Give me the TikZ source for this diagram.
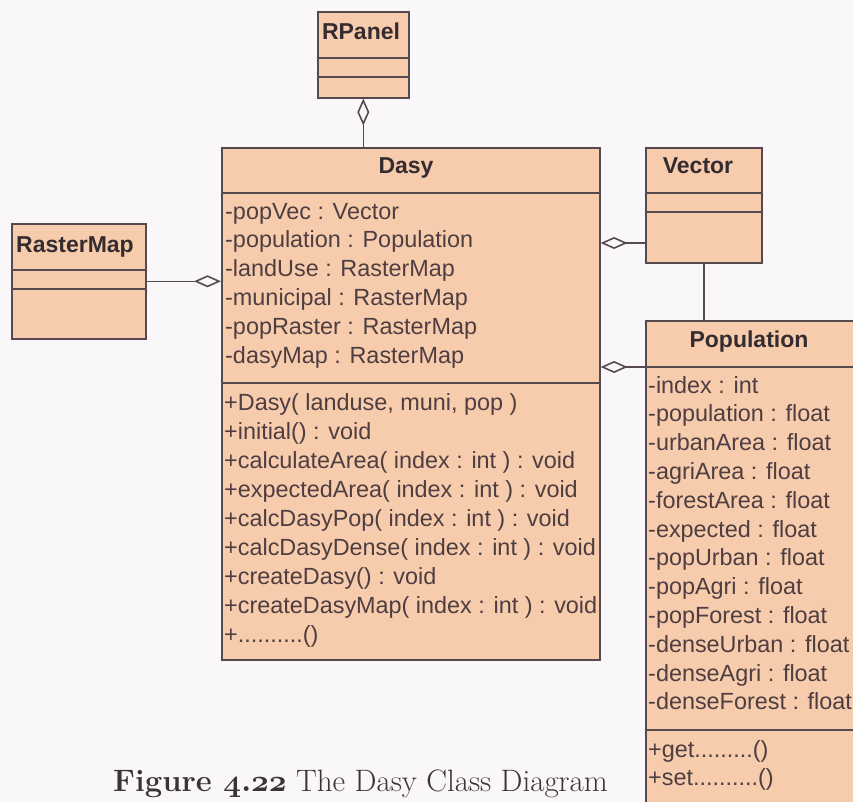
\documentclass[tikz,border=0pt]{standalone}
\usepackage{fix-cm}
\usepackage{fontspec}
\newfontfamily\umlfont{Liberation Sans}
\usetikzlibrary{arrows.meta}

\definecolor{pagebg}{RGB}{249,247,249}
\definecolor{classfill}{RGB}{247,204,172}
\definecolor{classline}{RGB}{86,74,80}
\definecolor{classtext}{RGB}{78,62,66}
\definecolor{classtitle}{RGB}{52,44,48}
\definecolor{captiontext}{RGB}{58,52,56}

\begin{document}
\begin{tikzpicture}[x=1pt,y=-1pt,
  cls/.style={draw=classline, fill=classfill, line width=1.6pt, rectangle,
    inner sep=0pt, anchor=north west},
  divider/.style={draw=classline, line width=1.6pt},
  classname/.style={font=\umlfont\bfseries\fontsize{23}{28}\selectfont,
    text=classtitle, anchor=base, inner sep=0pt},
  member/.style={font=\umlfont\fontsize{23.4}{28}\selectfont,
    text=classtext, anchor=base west, inner sep=0pt},
  link/.style={draw=classline, line width=1.6pt},
  agg/.style={link, -{Diamond[open, length=27pt, width=12pt, line width=1.6pt]}},
]
\path[use as bounding box, fill=pagebg] (0,0) rectangle (853,802);
\clip (0,0) rectangle (853,802);

% ---- class boxes ----
\node[cls, minimum width=91pt,  minimum height=86pt]  (rpanel) at (317,11)  {};
\node[cls, minimum width=378pt, minimum height=512pt] (dasy)   at (221,147) {};
\node[cls, minimum width=134pt, minimum height=115pt] (raster) at (11,223)  {};
\node[cls, minimum width=116pt, minimum height=115pt] (vector) at (645,147) {};
\node[cls, minimum width=215pt, minimum height=500pt] (popul)  at (645,320) {};

% ---- compartment dividers ----
\foreach \b/\y in {rpanel/58, rpanel/77, dasy/193, dasy/383, raster/270,
                   raster/289, vector/193, vector/212, popul/367, popul/730}
  \draw[divider] (\b.west |- 0,\y) -- (\b.east |- 0,\y);

% ---- class names ----
\node[classname] (rpanelname) at (361,40)  {RPanel};
\node[classname] (dasyname)   at (406,174) {Dasy};
\node[classname] (rastername) at (75,252)  {RasterMap};
\node[classname] (vectorname) at (698,174) {Vector};
\node[classname] (populname)  at (749,347) {Population};

% ---- Dasy members ----
\foreach \t [count=\i from 0] in {{-popVec : Vector}, {-population : Population},
    {-landUse : RasterMap}, {-municipal : RasterMap}, {-popRaster : RasterMap},
    {-dasyMap : RasterMap}}
  \node[member] (dasyattr\i) at (225,219+28.8*\i) {\t};
\foreach \t [count=\i from 0] in {{+Dasy( landuse, muni, pop )}, {+initial() : void},
    {+calculateArea( index : int ) : void}, {+expectedArea( index : int ) : void},
    {+calcDasyPop( index : int ) : void}, {+calcDasyDense( index : int ) : void},
    {+createDasy() : void}, {+createDasyMap( index : int ) : void}}
  \node[member] (dasyop\i) at (224,410+29*\i) {\t};
\node[member] (dasyop8) at (224,642) {+..........()};

% ---- Population members ----
\foreach \t [count=\i from 0] in {{-index : int}, {-population : float},
    {-urbanArea : float}, {-agriArea : float}, {-forestArea : float},
    {-expected : float}, {-popUrban : float}, {-popAgri : float},
    {-popForest : float}, {-denseUrban : float}, {-denseAgri : float},
    {-denseForest : float}}
  \node[member] (popattr\i) at (648,393+28.8*\i) {\t};
\node[member] (popop0) at (648,757) {+get.........()};
\node[member] (popop1) at (648,785) {+set..........()};

% ---- associations ----
\draw[agg]  (rpanel.south |- dasy.north) -- (rpanel.south);
\draw[agg]  (raster.east) -- (raster.east -| dasy.west);
\draw[agg]  (vector.west |- 0,243) -- (dasy.east |- 0,243);
\draw[agg]  (popul.west |- 0,367) -- (dasy.east |- 0,367);
\draw[link] (vector.south) -- (vector.south |- popul.north);

% ---- caption ----
\node[anchor=base west, inner sep=0pt, text=captiontext,
      font=\fontsize{31}{36}\selectfont] (caption) at (113,791)
  {\textbf{Figure {\boldmath$\mathnormal{4.22}$}} The Dasy Class Diagram};
\end{tikzpicture}
\end{document}
